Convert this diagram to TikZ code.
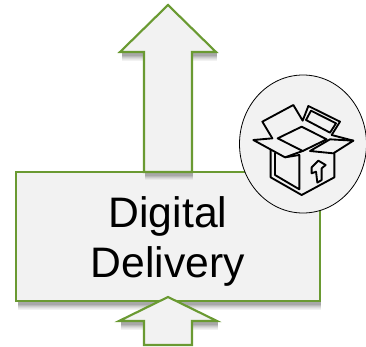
\documentclass[tikz,border=0pt]{standalone}
\usepackage{fontspec}
\setmainfont{Liberation Sans}
\definecolor{leafgreen}{HTML}{6A9A32}
\definecolor{panelgrey}{HTML}{F2F2F2}

\begin{document}
\begin{tikzpicture}[x=0.75pt,y=-0.75pt]
    \tikzstyle{greenshape}=[draw=leafgreen,fill=panelgrey,line width=1.6pt,line join=miter]
    \tikzstyle{iconline}=[draw=black,line width=1.4pt,line join=round,line cap=round]
    \useasboundingbox (0,0) rectangle (366,346);
    % box shadow
    \foreach \dy/\tone in {9/5,8/9,7/14,6/20,5/27,4/34}
      \fill[black!\tone] (18,290) rectangle (321,301+\dy);
    \draw[greenshape] (16,172) rectangle (320,301);
    \node[font=\fontsize{32}{37.5}\selectfont,align=center,text=black] (delivery_label) at (168,241) {Digital\\Delivery};
    % arrow shadows
    \foreach \dy/\tone in {9/5,8/9,7/14,6/20,5/27,4/34} {
      \fill[black!\tone] (122,52) rectangle (217,52+\dy);
      \fill[black!\tone] (145,172) rectangle (193,172+\dy);
      \fill[black!\tone] (121,321) rectangle (218,321+\dy);
    }
    % arrows
    \draw[greenshape] (168,5) -- (216,52) -- (192,52) -- (192,172) -- (144,172) -- (144,52) -- (120,52) -- cycle;
    \draw[greenshape] (168,297) -- (217,321) -- (192,321) -- (192,345) -- (144,345) -- (144,321) -- (119,321) -- cycle;
    % badge
    \draw[black,line width=0.6pt,fill=panelgrey] (303,144) ellipse (63.5 and 69);
    % open box icon
    \begin{scope}[shift={(230,70)},x=0.25pt,y=-0.25pt]
      \draw[iconline] (127,205) -- (97,155) -- (190,105) -- (218,152) -- (235,108) -- (330,155) -- (305,195);
      \draw[iconline] (228,150) -- (243,122) -- (318,160) -- (300,188) -- cycle;
      \draw[iconline] (143,205) -- (215,170) -- (290,208) -- (218,243) -- cycle;
      \draw[iconline] (127,205) -- (70,210) -- (165,262) -- (218,243);
      \draw[iconline] (240,243) -- (300,208) -- (370,212) -- (310,250) -- cycle;
      \draw[iconline] (305,195) -- (370,212);
      \draw[iconline] (122,240) -- (122,322) -- (215,375) -- (313,322) -- (313,250);
      \draw[iconline] (135,250) -- (135,315) -- (208,358) -- (208,255) -- (165,262);
      \draw[iconline] (265,272) -- (287,285) -- (275,295) -- (275,330) -- (262,338) -- (258,305) -- (245,310) -- (245,292) -- cycle;
    \end{scope}
\end{tikzpicture}
\end{document}
